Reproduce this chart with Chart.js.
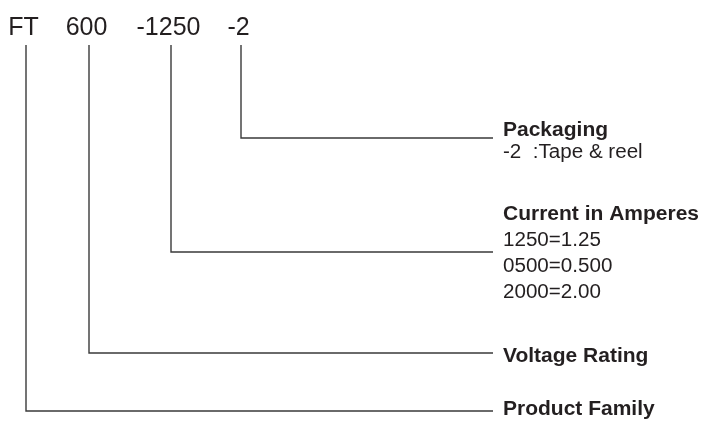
<!DOCTYPE html>
<html>
<head>
<meta charset="utf-8">
<script src="https://cdn.jsdelivr.net/npm/chart.js@4.4.0/dist/chart.umd.min.js"></script>
<style>
  html, body { margin: 0; padding: 0; background: #fff; }
  #wrap { width: 705px; height: 422px; position: relative; }
</style>
</head>
<body>
<div id="wrap"><canvas id="chart"></canvas></div>
<script>
// part number segments, left to right
const segments = ['FT', '600', '-1250', '-2'];
const fieldNames = ['Product Family', 'Voltage Rating', 'Current in Amperes', 'Packaging'];
const fieldNotes = [
  [],
  [],
  ['1250=1.25', '0500=0.500', '2000=2.00'],
  ['-2  :Tape & reel']
];

// diagram layout (units = canvas px, y grows downward)
const segmentX = [26, 89, 171, 241];
const leaderY = [411, 353, 252, 138];
const titleBaseY = [415, 362, 220, 136];
const noteFirstY = [0, 0, 246, 158];
const layout = {
  topBase: 35,
  leaderTop: 45,
  leaderEnd: 493,
  textX: 503,
  noteStep: 26
};

const INK = '#231f20';
const LINE = '#3a3a3a';

const leaderSets = segments.map((s, i) => ({
  label: s,
  data: [
    { x: segmentX[i], y: layout.leaderTop },
    { x: segmentX[i], y: leaderY[i] },
    { x: layout.leaderEnd, y: leaderY[i] }
  ],
  showLine: true,
  borderColor: LINE,
  borderWidth: 1.4,
  pointRadius: 0,
  fill: false,
  tension: 0
}));

// text slightly wider than plain Arial in the source
function stretchText(ctx, text, px, py, sx) {
  ctx.save();
  ctx.translate(px, py);
  ctx.scale(sx, 1);
  ctx.fillText(text, 0, 0);
  ctx.restore();
}

const labelPlugin = {
  id: 'labels',
  afterDatasetsDraw(chart) {
    const { ctx, scales: { x, y } } = chart;
    ctx.save();
    ctx.fillStyle = INK;
    ctx.textBaseline = 'alphabetic';

    ctx.font = "25px 'Liberation Sans', Arial, sans-serif";
    ctx.textAlign = 'center';
    segments.forEach((s, i) => {
      ctx.fillText(s, x.getPixelForValue(segmentX[i] - 2.5), y.getPixelForValue(layout.topBase));
    });

    ctx.textAlign = 'left';
    const tx = x.getPixelForValue(layout.textX);
    fieldNames.forEach((name, i) => {
      ctx.font = "bold 20px 'Liberation Sans', Arial, sans-serif";
      stretchText(ctx, name, tx, y.getPixelForValue(titleBaseY[i]), 1.05);
      ctx.font = "20px 'Liberation Sans', Arial, sans-serif";
      fieldNotes[i].forEach((note, k) => {
        stretchText(ctx, note, tx, y.getPixelForValue(noteFirstY[i] + k * layout.noteStep), 1.03);
      });
    });
    ctx.restore();
  }
};

new Chart(document.getElementById('chart'), {
  type: 'scatter',
  data: { datasets: leaderSets },
  options: {
    responsive: true,
    maintainAspectRatio: false,
    animation: false,
    layout: { padding: 0 },
    plugins: { legend: { display: false }, tooltip: { enabled: false } },
    scales: {
      x: { type: 'linear', min: 0, max: 705, display: false },
      y: { type: 'linear', min: 0, max: 422, reverse: true, display: false }
    }
  },
  plugins: [labelPlugin]
});
</script>
</body>
</html>
